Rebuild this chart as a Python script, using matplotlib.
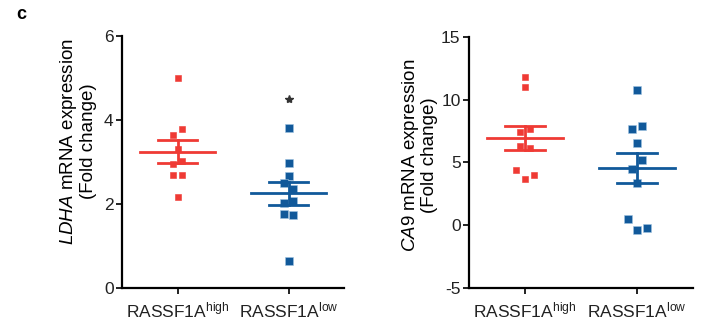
import numpy as np
import matplotlib
matplotlib.use("Agg")
import matplotlib.pyplot as plt

plt.rcParams['font.family'] = ['Liberation Sans', 'DejaVu Sans']
plt.rcParams['mathtext.fontset'] = 'custom'
plt.rcParams['mathtext.rm'] = 'Liberation Sans'
plt.rcParams['mathtext.it'] = 'Liberation Sans:italic'
plt.rcParams['mathtext.default'] = 'regular'
plt.rcParams['axes.unicode_minus'] = False

# values
groups = ['RASSF1A$^{high}$', 'RASSF1A$^{low}$']

ldha_high = [5.0, 3.78, 3.64, 3.30, 3.02, 2.94, 2.69, 2.69, 2.15]
ldha_low = [3.80, 2.98, 2.66, 2.50, 2.34, 2.07, 2.01, 1.75, 1.72, 0.63]
ldha_star = 4.49

ca9_high = [11.85, 11.0, 7.67, 7.4, 6.33, 6.12, 4.39, 4.01, 3.64]
ca9_low = [10.81, 7.93, 7.64, 6.55, 5.19, 4.44, 3.37, 0.49, -0.36, -0.25]

# scatter spread of the points (in steps)
ldha_high_jit = [0, 1, -1, 0, 1, -1, -1, 1, 0]
ldha_low_jit = [0, 0, 0, -1, 1, 1, -1, -1, 1, 0]
ca9_high_jit = [0, 0, 1, -1, -1, 1, -2, 2, 0]
ca9_low_jit = [0, 1, -1, 0, 1, -1, 0, -2, 0, 2]

red = '#EF3A34'
blue = '#11599A'


def draw_panel(ax, high, low, jit_high, jit_low, ylim, yticks, ylabel):
    for i, (vals, jit, col, ms) in enumerate([(high, jit_high, red, 4.2),
                                              (low, jit_low, blue, 5.4)]):
        vals = np.array(vals)
        x = i + np.array(jit) * 0.042
        ax.plot(x, vals, 's', color=col, ms=ms, mec='#9FC3E0' if col == blue else col,
                mew=0.4, zorder=3)
        m = vals.mean()
        sem = vals.std(ddof=1) / np.sqrt(len(vals))
        ax.plot([i - 0.34, i + 0.34], [m, m], color=col, lw=2, zorder=4)
        ax.plot([i - 0.175, i + 0.175], [m + sem, m + sem], color=col, lw=2, zorder=4)
        ax.plot([i - 0.175, i + 0.175], [m - sem, m - sem], color=col, lw=2, zorder=4)
        ax.plot([i, i], [m - sem, m + sem], color=col, lw=2, zorder=4)

    ax.set_xlim(-0.5, 1.5)
    ax.set_ylim(*ylim)
    ax.set_yticks(yticks)
    ax.set_xticks([0, 1])
    ax.set_xticklabels(groups)
    for s in ['top', 'right']:
        ax.spines[s].set_visible(False)
    for s in ['left', 'bottom']:
        ax.spines[s].set_linewidth(1.6)
    ax.tick_params(axis='both', labelsize=12.5, width=1.4, length=4, colors='#222222')
    ax.tick_params(axis='y', pad=2)
    ax.tick_params(axis='x', pad=5)
    ax.set_ylabel(ylabel, fontsize=13.5, linespacing=1.05)


fig = plt.figure(figsize=(7.03, 3.22), dpi=100)
ax1 = fig.add_axes([0.1735, 0.107, 0.316, 0.781])
ax2 = fig.add_axes([0.667, 0.107, 0.319, 0.777])

draw_panel(ax1, ldha_high, ldha_low, ldha_high_jit, ldha_low_jit,
           (0, 6), [0, 2, 4, 6], '$\\it{LDHA}$ mRNA expression\n(Fold change)')
ax1.plot([1], [ldha_star], marker='*', color='#333333', ms=6, ls='none')
ax1.yaxis.set_label_coords(-0.112, 0.58)

draw_panel(ax2, ca9_high, ca9_low, ca9_high_jit, ca9_low_jit,
           (-5, 15), [-5, 0, 5, 10, 15], '$\\it{CA9}$ mRNA expression\n(Fold change)')
ax2.yaxis.set_label_coords(-0.137, 0.53)

fig.text(0.03, 0.955, 'c', fontsize=13, fontweight='bold', va='center', ha='center')

fig.savefig('out.png', dpi=100)
